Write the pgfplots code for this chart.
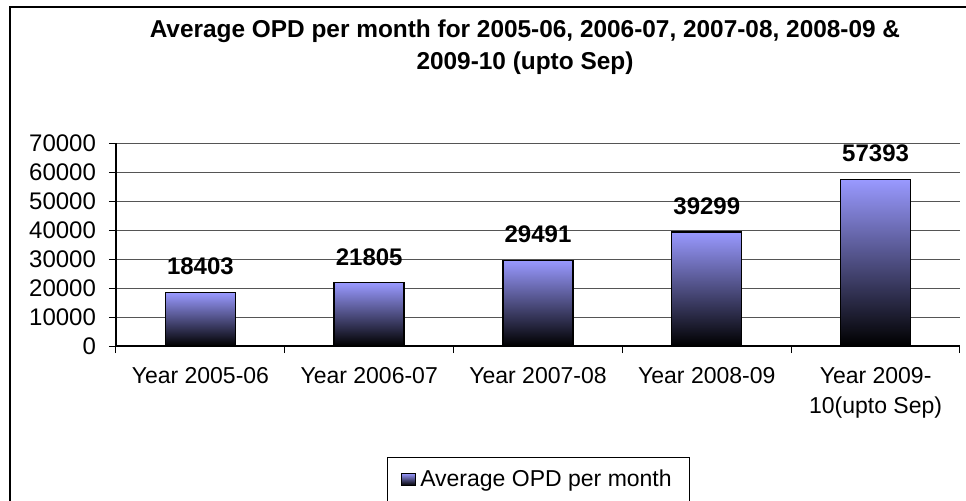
\documentclass[border=0pt]{standalone}
\usepackage{fontspec}
\setmainfont{Liberation Sans}
\usepackage{pgfplots}
\pgfplotsset{compat=1.18}
\definecolor{barblue}{HTML}{9999FF}
\definecolor{gridc}{HTML}{555555}
\pgfplotsset{mybar/.style={ybar, bar width=35pt, draw=black, line width=0.7pt, top color=barblue, bottom color=black,
  nodes near coords,
  nodes near coords style={font=\bfseries\fontsize{12}{12}\selectfont, anchor=center, yshift=13pt, text=black}}}
\begin{document}
\begin{tikzpicture}[x=1pt,y=1pt]
\useasboundingbox (0,0) rectangle (483,250);
\fill[white] (0,0) rectangle (483,250);
\draw[line width=1pt] (5,-1) -- (5,246.5) -- (484,246.5);
\node[font=\bfseries\fontsize{12.2}{16}\selectfont, align=center] at (262.5,226.5) {Average OPD per month for 2005-06, 2006-07, 2007-08, 2008-09 \&\\2009-10 (upto Sep)};
\begin{axis}[
  at={(58pt,77pt)}, anchor=south west,
  width=422pt, height=101.5pt, scale only axis,
  xmin=-0.5, xmax=4.5, ymin=0, ymax=70000,
  axis x line*=bottom, axis y line*=left,
  axis line style={-, black, line width=0.6pt},
  ytick={0,10000,20000,30000,40000,50000,60000,70000},
  yticklabels={0,10000,20000,30000,40000,50000,60000,70000},
  yticklabel style={font=\fontsize{12}{14}\selectfont, xshift=-3pt},
  xtick={-0.5,0.5,1.5,2.5,3.5,4.5},
  xticklabels={},
  extra x ticks={0,1,2,3,4},
  extra x tick labels={Year 2005-06, Year 2006-07, Year 2007-08, Year 2008-09, {Year 2009-\\10(upto Sep)}},
  extra x tick style={major tick length=0pt, xticklabel style={align=center, font=\fontsize{11.5}{15}\selectfont, yshift=-7pt}},
  tick align=outside, major tick length=3.5pt,
  tick style={black, line width=0.5pt},
  ymajorgrids, grid style={gridc, line width=0.5pt},
  scaled y ticks=false,
  /pgf/number format/.cd, 1000 sep={}, assume math mode=true, /pgfplots/.cd,
  legend style={at={(0.5006,-0.547)}, anchor=north, draw=black, line width=0.5pt, font=\fontsize{11.5}{14}\selectfont, inner xsep=7pt, inner ysep=4pt},
  legend image code/.code={\draw[draw=black, line width=0.5pt, top color=barblue, bottom color=black] (0pt,-3pt) rectangle (7pt,3pt);},
]
\addplot[mybar] coordinates {(0,18403)};
\addlegendentry{Average OPD per month}
\addplot[mybar, forget plot] coordinates {(1,21805)};
\addplot[mybar, forget plot] coordinates {(2,29491)};
\addplot[mybar, forget plot] coordinates {(3,39299)};
\addplot[mybar, forget plot] coordinates {(4,57393)};
\end{axis}
\end{tikzpicture}
\end{document}
